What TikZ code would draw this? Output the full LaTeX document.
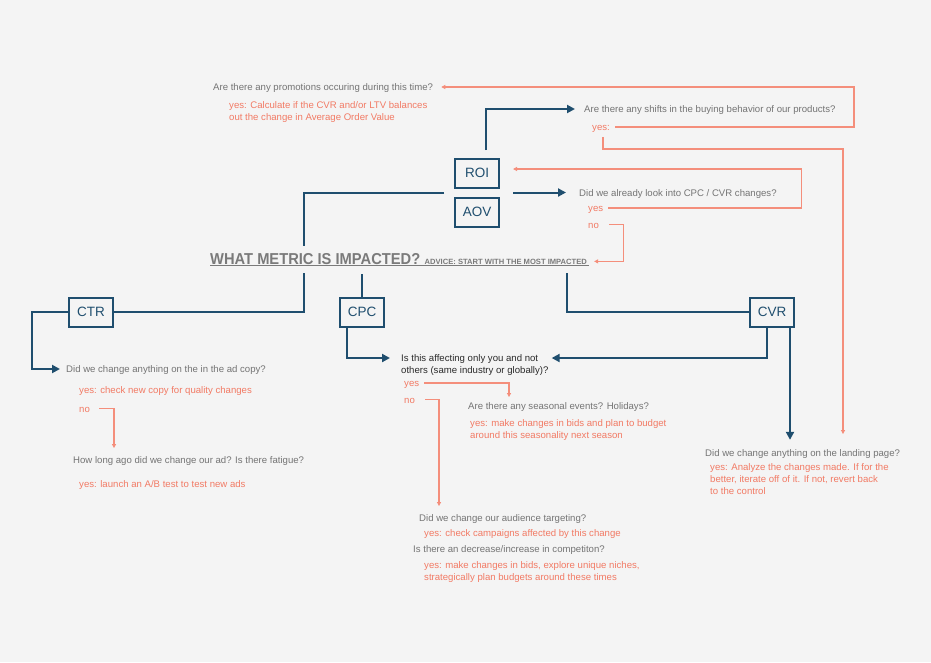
\documentclass[tikz,border=0pt]{standalone}
\usepackage{fontspec}
\setmainfont{Liberation Sans}
\newfontfamily\ttlfont[FakeStretch=0.93]{Liberation Sans}
\usetikzlibrary{arrows.meta,calc,positioning}

\definecolor{bgc}{HTML}{F4F4F4}
\definecolor{navy}{HTML}{1F4E6E}
\definecolor{salmon}{HTML}{F27A64}
\definecolor{txtgray}{HTML}{747474}
\definecolor{ttlgray}{HTML}{7A7A7A}
\definecolor{darktxt}{HTML}{2A2A2A}

\newcommand\qfont{\fontsize{9.6}{12}\selectfont}

\begin{document}
\begin{tikzpicture}[x=1pt, y=-1pt,
    bl/.style = {draw=navy, line width=2pt},
    ar/.style = {-{Triangle[length=8pt,width=8pt]}},
    sl/.style = {draw=salmon!85, line width=1.1pt, -{Triangle[length=4pt,width=4pt]}},
    metric/.style = {draw=navy, line width=2pt, text=navy, minimum width=44pt,
      minimum height=29pt, inner sep=0, font=\fontsize{13.5}{14}\selectfont},
    q/.style = {anchor=west, inner sep=0, text=txtgray, font=\qfont,
      text height=8.5pt, text depth=1pt},
    ans/.style = {q, text=salmon},
    para/.style = {anchor=north west, inner sep=0, align=left, font=\qfont}]

      \fill[bgc] (0,0) rectangle (931,662);

      \node[metric] (roi) at (477,173) {ROI};
      \node[metric, below=8pt of roi] (aov) {AOV};
      \node[metric] (ctr) at (91,312) {CTR};
      \node[metric] (cpc) at (362,312) {CPC};
      \node[metric] (cvr) at (772,312) {CVR};

      \coordinate (mid) at ($(roi.south)!.5!(aov.north)$);

      \node[anchor=base west, inner sep=0, text=ttlgray,
        font=\ttlfont\fontsize{15.8}{16}\bfseries] (t) at (210,264) {WHAT METRIC IS IMPACTED?};
      \node[anchor=base west, inner sep=0, text=ttlgray,
        font=\fontsize{7.6}{8}\bfseries] (adv) at ([xshift=4]t.base east) {ADVICE: START WITH THE MOST IMPACTED};
      \draw[ttlgray, line width=1pt] ([yshift=-1.8]t.base west) -- ([xshift=2,yshift=-1.8]adv.base east);

      \coordinate (t1) at (304,246);
      \coordinate (t2) at (304,273);
      \coordinate (t3) at (362,274);
      \coordinate (t4) at (567,273);

      \node[q] (q1) at (213,87) {Are there any promotions occuring during this time?};
      \node[para, text=salmon] (a1) at (229,101) {yes: Calculate if the CVR and/or LTV balances\\out the change in Average Order Value};

      \node[q] (q2) at (584,109) {Are there any shifts in the buying behavior of our products?};
      \node[ans] (y2) at (592,127) {yes:};

      \node[q] (q3) at (579,193) {Did we already look into CPC / CVR changes?};
      \node[ans] (y3) at (588,208) {yes};
      \node[ans, below right=6.5pt and 0pt of y3.south west] (n3) {no};

      \node[q] (q4) at (66,369) {Did we change anything on the in the ad copy?};
      \node[ans] (y4) at (79,390) {yes: check new copy for quality changes};
      \node[ans, below right=8.5pt and 0pt of y4.south west] (n4) {no};
      \node[q] (q5) at (73,460) {How long ago did we change our ad? Is there fatigue?};
      \node[ans, below right=13.5pt and 6pt of q5.south west] (y5) {yes: launch an A/B test to test new ads};

      \node[para, text=darktxt] (q6) at (401,354) {Is this affecting only you and not\\others (same industry or globally)?};
      \node[ans] (y6) at (404,383) {yes};
      \node[ans, below right=6.5pt and 0pt of y6.south west] (n6) {no};
      \node[q] (q7) at (468,406) {Are there any seasonal events? Holidays?};
      \node[para, text=salmon] (y7) at (470,419) {yes: make changes in bids and plan to budget\\around this seasonality next season};

      \node[q] (q8) at (419,518) {Did we change our audience targeting?};
      \node[ans] (y8) at (424,533) {yes: check campaigns affected by this change};
      \node[q] (q9) at (413,549) {Is there an decrease/increase in competiton?};
      \node[para, text=salmon] (y9) at (424,561) {yes: make changes in bids, explore unique niches,\\strategically plan budgets around these times};

      \node[q] (q10) at (705,453) {Did we change anything on the landing page?};
      \node[para, text=salmon] (y10) at (710,463) {yes: Analyze the changes made. If for the\\better, iterate off of it. If not, revert back\\to the control};

      \draw[bl, ar] ([xshift=9,yshift=7.5]roi.north) |- ([xshift=-9]q2.west);
      \draw[bl, ar] ([xshift=36]mid) -- ([xshift=-13]mid -| q3.west);
      \draw[bl] ([xshift=-33]mid) -| (t1);
      \draw[bl] (t2) |- (ctr.east);
      \draw[bl] (t3) -- (cpc.north);
      \draw[bl] (t4) |- (cvr.west);
      \draw[bl, ar] (ctr.west) -- ++(-36,0) |- ([xshift=-6]q4.west);
      \draw[bl, ar] ([xshift=-15]cpc.south) |- ([xshift=-11,yshift=-4]q6.north west);
      \draw[bl, ar] ([xshift=-5]cvr.south) |- ([xshift=3,yshift=-4]q6.north east);
      \draw[bl, ar] ([xshift=18]cvr.south) -- ($(cvr.south |- q10.north)+(18,-8.25)$);

      \draw[sl] ([xshift=5]y2.east) -- ++(239,0) |- ([xshift=8]q1.east);
      \draw[sl] ([xshift=11,yshift=-5]y2.south west) -- ++(0,12) -| ([xshift=138,yshift=14]q10.north west);
      \draw[sl] ([xshift=5]y3.east) -- ++(193,0) |- ([xshift=13,yshift=4]roi.east);
      \draw[sl] ([xshift=10]n3.east) -- ++(14,0) |- ([xshift=7]adv.east);
      \draw[sl] ([xshift=9]n4.east) -| ([xshift=41,yshift=7]q5.north west);
      \draw[sl] ([xshift=5]y6.east) -| ([xshift=41,yshift=4]q7.north west);
      \draw[sl] ([xshift=10]n6.east) -| ([xshift=20,yshift=7]q8.north west);

\end{tikzpicture}
\end{document}
